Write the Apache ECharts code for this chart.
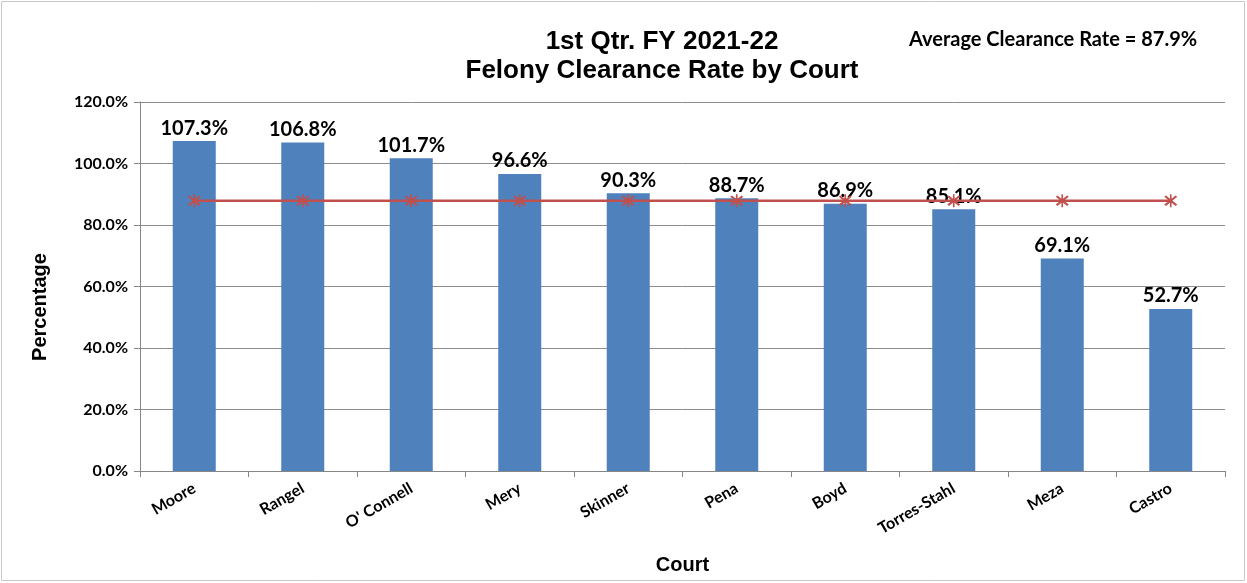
<!DOCTYPE html>
<html>
<head>
    <meta charset="utf-8">
    <title>Felony Clearance Rate</title>
    <script src="https://cdn.jsdelivr.net/npm/echarts@6/dist/echarts.min.js"></script>
    <style>
        body { margin: 0; background: #fff; }
    </style>
</head>
<body>
    <div id="div_chart" style="width: 1247px; height: 583px;"></div>

    <script type="text/javascript">
        var courts = ['Moore', 'Rangel', "O' Connell", 'Mery', 'Skinner', 'Pena', 'Boyd', 'Torres-Stahl', 'Meza', 'Castro'];
        var clearanceRate = [107.3, 106.8, 101.7, 96.6, 90.3, 88.7, 86.9, 85.1, 69.1, 52.7];
        var averageRate = [87.9, 87.9, 87.9, 87.9, 87.9, 87.9, 87.9, 87.9, 87.9, 87.9];

        var starMarker = 'path://M-1,-10 L1,-10 L1,10 L-1,10 Z M-8,-6 L-6,-8 L8,6 L6,8 Z M6,-8 L8,-6 L-6,8 L-8,6 Z';

        var myChart = echarts.init(document.getElementById('div_chart'));
        myChart.setOption({
            animation: false,
            graphic: [{
                type: 'rect',
                shape: { x: 1.5, y: 1.5, width: 1243, height: 579 },
                style: { fill: 'none', stroke: '#c8c8c8', lineWidth: 1 }
            }, {
                // y axis title, placed a little below the grid middle like the original
                type: 'text',
                x: 40,
                y: 307,
                rotation: Math.PI / 2,
                style: {
                    text: 'Percentage',
                    align: 'center',
                    verticalAlign: 'middle',
                    fontFamily: 'Liberation Sans',
                    fontWeight: 'bold',
                    fontSize: 20,
                    fill: '#000'
                }
            }],
            title: [{
                text: '1st Qtr. FY 2021-22\nFelony Clearance Rate by Court',
                left: 657,
                top: 22,
                textAlign: 'center',
                textStyle: {
                    fontFamily: 'Liberation Sans',
                    fontWeight: 'bold',
                    fontSize: 26,
                    lineHeight: 29,
                    color: '#000'
                }
            }, {
                text: 'Average Clearance Rate = 87.9%',
                left: 904,
                top: 25,
                textStyle: {
                    fontFamily: 'Lato',
                    fontWeight: 'bold',
                    fontSize: 20,
                    color: '#000'
                }
            }],
            grid: {
                left: 140,
                right: 22,
                top: 102,
                bottom: 112,
                outerBoundsMode: 'none'
            },
            xAxis: {
                type: 'category',
                data: courts,
                name: 'Court',
                nameLocation: 'middle',
                nameGap: 84,
                nameTextStyle: {
                    fontFamily: 'Liberation Sans',
                    fontWeight: 'bold',
                    fontSize: 20,
                    color: '#000'
                },
                axisLine: { lineStyle: { color: '#868686' } },
                axisTick: { show: true, length: 6, lineStyle: { color: '#868686' } },
                axisLabel: {
                    rotate: 30,
                    margin: 16,
                    fontFamily: 'Lato',
                    fontWeight: 'bold',
                    fontSize: 16,
                    color: '#000'
                }
            },
            yAxis: {
                type: 'value',
                min: 0,
                max: 120,
                interval: 20,
                axisLine: { show: true, lineStyle: { color: '#868686' } },
                axisTick: { show: true, length: 6, lineStyle: { color: '#868686' } },
                splitLine: { lineStyle: { color: '#8c8c8c' } },
                axisLabel: {
                    margin: 12,
                    fontFamily: 'Lato',
                    fontWeight: 'bold',
                    fontSize: 16,
                    color: '#000',
                    formatter: function (v) { return v.toFixed(1) + '%'; }
                }
            },
            series: [{
                name: 'Clearance Rate',
                type: 'bar',
                data: clearanceRate,
                barWidth: 43,
                itemStyle: { color: '#4f81bd' },
                label: {
                    show: true,
                    position: 'top',
                    distance: 3,
                    fontFamily: 'Lato',
                    fontWeight: 'bold',
                    fontSize: 20,
                    color: '#000',
                    formatter: function (p) { return p.value.toFixed(1) + '%'; }
                }
            }, {
                name: 'Average',
                type: 'line',
                data: averageRate,
                symbol: starMarker,
                symbolSize: 13,
                itemStyle: { color: '#c0504d' },
                lineStyle: { color: '#c0504d', width: 2.5 },
                z: 3
            }]
        });
    </script>
</body>
</html>
